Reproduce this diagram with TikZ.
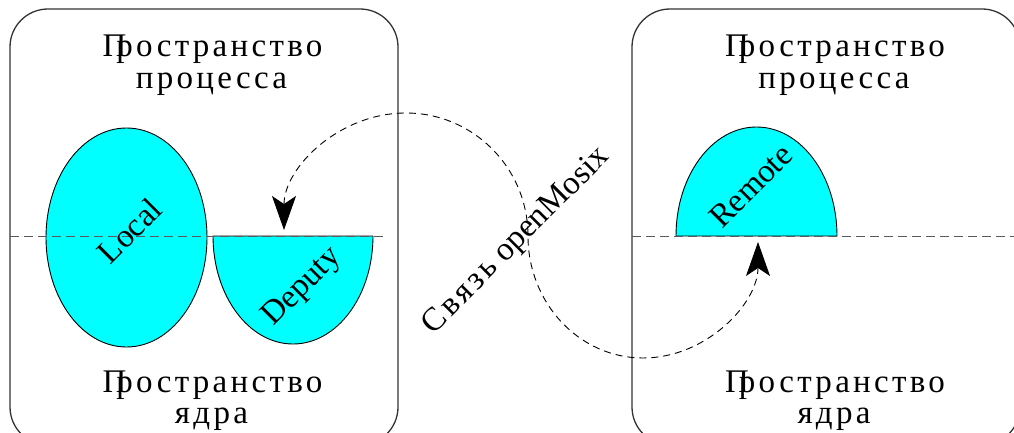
\documentclass[tikz,border=0pt]{standalone}
\usepackage{fontspec}
\setmainfont{Liberation Serif}
\newfontfamily\spacedfont{Liberation Serif}[LetterSpace=10]
\usetikzlibrary{arrows.meta}
\definecolor{proccyan}{RGB}{0,255,255}
\newcommand{\Prostr}{{\spacedfont П\kern-0.3emространство}}
\begin{document}
\begin{tikzpicture}[x=1pt,y=-1pt,
  font=\fontsize{33}{36}\selectfont,
  spacebox/.style={draw=black!80, line width=1.3pt, rounded corners=38pt},
  level/.style={draw=black!65, line width=1pt, dash pattern=on 9pt off 5pt},
  proc/.style={draw=black, line width=0.9pt, fill=proccyan},
  lbl/.style={inner sep=0pt, anchor=base},
  rlbl/.style={inner sep=0pt, rotate=45},
  link/.style={draw=black, line width=0.9pt, dash pattern=on 7pt off 5pt,
    {Stealth[length=34pt,width=24pt,inset=8pt]}-{Stealth[length=34pt,width=24pt,inset=8pt]},
    shorten <=6pt, shorten >=6pt}]
\useasboundingbox (0,0) rectangle (1014,433);
\clip (0,0) rectangle (1014,433);
% boxes
\draw[spacebox] (10,9) rectangle (398,445);
\draw[spacebox] (632,9) rectangle (1020,445);
% processes
\draw[proc] (126.5,237.5) ellipse [x radius=80.5, y radius=109.5];
\draw[proc] (213,236) arc[start angle=180, end angle=0, x radius=80, y radius=108] -- cycle;
\draw[proc] (676,236) arc[start angle=180, end angle=360, x radius=80.5, y radius=109] -- cycle;
% level lines
\draw[level] (10,236) -- (385,236);
\draw[level] (632,236) -- (1014,236);
% link
\coordinate (dtop) at (284,236);
\coordinate (rbot) at (758,236);
\draw[link] (dtop) arc[start angle=180, end angle=360, x radius=122, y radius=123]
  arc[start angle=180, end angle=0, x radius=115, y radius=122];
% labels
\node[lbl] (lt1) at (212.5,57) {\Prostr};
\node[lbl] (lt2) at (211.5,89) {\spacedfont процесса};
\node[lbl] (lb1) at (212.5,392) {\Prostr};
\node[lbl] (lb2) at (211.5,423) {\spacedfont ядра};
\node[lbl] (rt1) at (835,57) {\Prostr};
\node[lbl] (rt2) at (834,89) {\spacedfont процесса};
\node[lbl] (rb1) at (835,392) {\Prostr};
\node[lbl] (rb2) at (834,423) {\spacedfont ядра};
\node[rlbl] (local) at (129.5,230.5) {Local};
\node[rlbl] (deputy) at (302.5,287.5) {Deputy};
\node[rlbl] (remote) at (751,186) {Remote};
\node[rlbl] (linklbl) at (516.5,241.5) {{\spacedfont Связь} openMosix};
\end{tikzpicture}
\end{document}
